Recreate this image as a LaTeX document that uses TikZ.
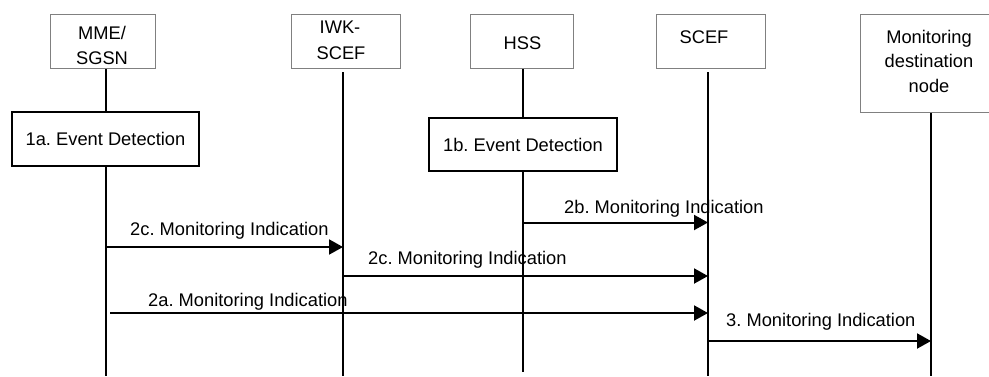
\documentclass[tikz,border=0pt]{standalone}
\usepackage{fontspec}
\setmainfont{Liberation Sans}
\usetikzlibrary{arrows.meta}
\begin{document}
\frenchspacing
\begin{tikzpicture}[x=1pt,y=-1pt,
  txt/.style={font=\fontsize{18.3}{24}\selectfont\frenchspacing, inner sep=0pt},
  topbox/.style={draw=black!50, line width=1pt, fill=white, inner sep=0pt},
  boxtxt/.style={txt, anchor=base},
  evbox/.style={txt, draw=black, line width=1.8pt, fill=white, align=center},
  life/.style={draw=black, line width=1.7pt},
  msg/.style={draw=black, line width=2pt, -{Triangle[length=14pt,width=15pt]}},
  lbl/.style={txt, anchor=base west}]
\useasboundingbox (0,0) rectangle (989,376);
% lifelines
\coordinate (mmeTop) at (106,68);   \coordinate (mmeBot) at (106,376);
\coordinate (iwkTop) at (343,72);   \coordinate (iwkBot) at (343,376);
\coordinate (hssTop) at (523,68);   \coordinate (hssBot) at (523,372);
\coordinate (scefTop) at (708,72);  \coordinate (scefBot) at (708,376);
\coordinate (monTop) at (931,112);  \coordinate (monBot) at (931,376);
\draw[life] (mmeTop) -- (mmeBot);
\draw[life] (iwkTop) -- (iwkBot);
\draw[life] (hssTop) -- (hssBot);
\draw[life] (scefTop) -- (scefBot);
\draw[life] (monTop) -- (monBot);
% top boxes
\node[topbox, minimum width=105pt, minimum height=54pt] (mme) at (102.5,41) {};
\node[boxtxt] (mmet1) at (102,39) {MME/};
\node[boxtxt] (mmet2) at (102,64) {SGSN};
\node[topbox, minimum width=109pt, minimum height=54pt] (iwk) at (345.5,41) {};
\node[boxtxt] (iwkt1) at (340,33) {IWK-};
\node[boxtxt] (iwkt2) at (341,59) {SCEF};
\node[topbox, minimum width=103pt, minimum height=54pt] (hss) at (521.5,41) {};
\node[boxtxt] (hsst) at (522.5,49.5) {HSS};
\node[topbox, minimum width=109pt, minimum height=54pt] (scef) at (710.5,41) {};
\node[boxtxt] (sceft) at (704,43) {SCEF};
\node[topbox, minimum width=140pt, minimum height=98pt] (mon) at (930,63) {};
\node[boxtxt] (mont1) at (929,43) {Monitoring};
\node[boxtxt] (mont2) at (929,67.5) {destination};
\node[boxtxt] (mont3) at (929,92) {node};
% event boxes
\node[evbox, minimum width=187pt, minimum height=54pt] (ev1a) at (105.5,139) {1a. Event Detection};
\node[evbox, minimum width=188pt, minimum height=53pt] (ev1b) at (523,144.5) {1b. Event Detection};
% message end points
\coordinate (a2bS) at (523,222.5);  \coordinate (a2bE) at (708,222.5);
\coordinate (a2c1S) at (107,247);   \coordinate (a2c1E) at (343,247);
\coordinate (a2c2S) at (343,276);   \coordinate (a2c2E) at (708,276);
\coordinate (a2aS) at (110,313);    \coordinate (a2aE) at (708,313);
\coordinate (a3S) at (708,341);     \coordinate (a3E) at (931,341);
\draw[msg] (a2bS) -- (a2bE);
\draw[msg] (a2c1S) -- (a2c1E);
\draw[msg] (a2c2S) -- (a2c2E);
\draw[msg] (a2aS) -- (a2aE);
\draw[msg] (a3S) -- (a3E);
% labels
\node[lbl] (l2b) at (564,213) {2b. Monitoring Indication};
\node[lbl] (l2c1) at (130,235) {2c. Monitoring Indication};
\node[lbl] (l2c2) at (368,264) {2c. Monitoring Indication};
\node[lbl] (l2a) at (148,306) {2a. Monitoring Indication};
\node[lbl] (l3) at (726,326) {3. Monitoring Indication};
\end{tikzpicture}
\end{document}
